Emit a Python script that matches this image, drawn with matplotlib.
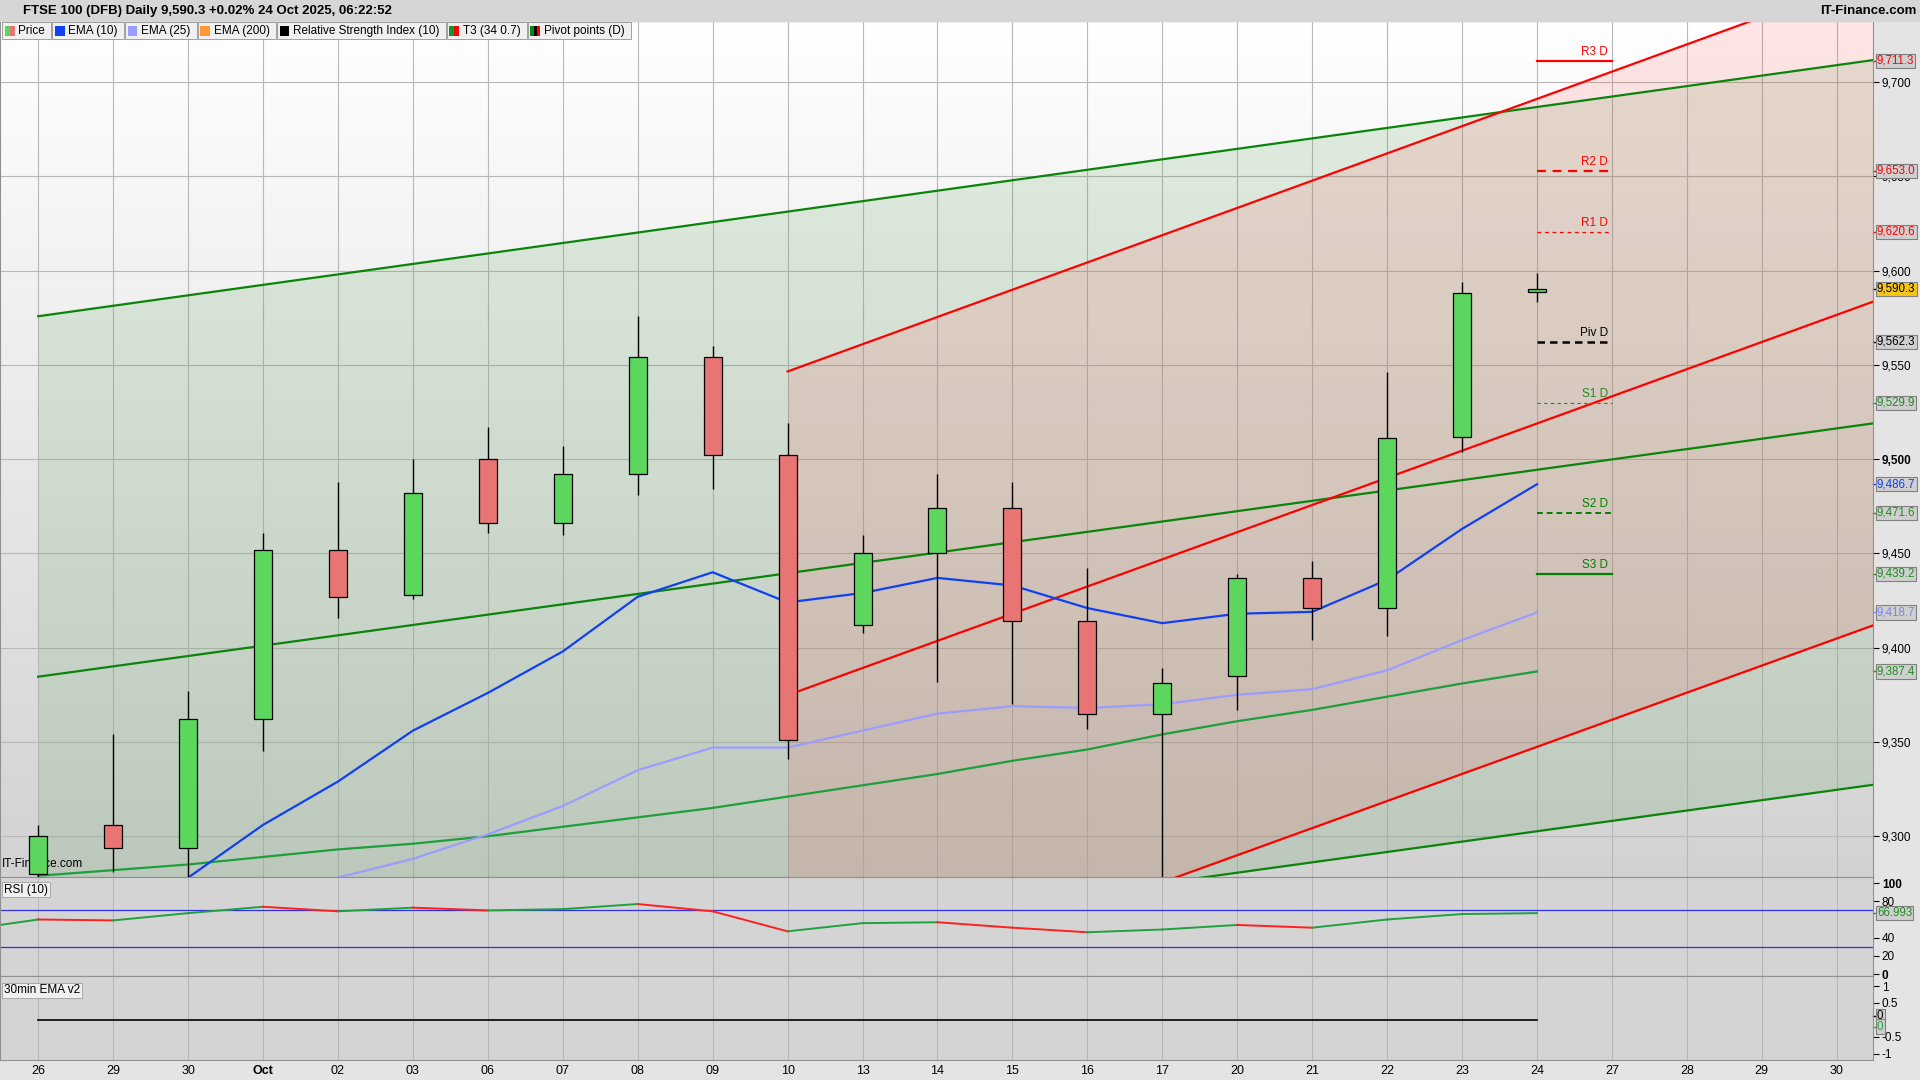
import numpy as np
import matplotlib
matplotlib.use("Agg")
import matplotlib.pyplot as plt
from matplotlib.patches import Rectangle

plt.rcParams['font.family'] = ['Liberation Sans', 'DejaVu Sans']

# ---------------- data ----------------
xlabels = ['26','29','30','Oct','02','03','06','07','08','09','10','13','14','15','16','17',
           '20','21','22','23','24','27','28','29','30']
opens  = [9280,9306,9294,9362,9452,9428,9500,9466,9492,9554,9502,9412,9450,9474,9414,9365,9385,9437,9421,9512,9588.5]
highs  = [9306,9354,9377,9461,9488,9500,9517,9507,9576,9560,9519,9460,9492,9488,9442,9389,9439,9446,9546,9594,9598.5]
lows   = [9270,9281,9275,9345,9416,9426,9461,9460,9481,9484,9341,9408,9382,9370,9357,9250,9367,9404,9406,9504,9583.6]
closes = [9300,9294,9362,9452,9427,9482,9466,9492,9554,9502,9351,9450,9474,9414,9365,9381,9437,9421,9511,9588,9590.3]
ema10  = [9250,9262,9278,9306,9329,9356,9376,9398,9427,9440,9424,9429,9437,9433,9421,9413,9418,9419,9436,9463,9486.7]
ema25  = [9255,9262,9268,9273,9278,9288,9301,9316,9335,9347,9347,9356,9365,9369,9368,9370,9375,9378,9388,9404,9418.7]
t3     = [9279,9282,9285,9289,9293,9296,9300,9305,9310,9315,9321,9327,9333,9340,9346,9354,9361,9367,9374,9381,9387.4]
rsi    = [60,59,67,74,69,73,70,71.4,77,69,47,56,57,51,46,49,54,51,60,66,66.993]
ema30m = [0]*21
# trend channels: (x0, y0, x1, y1)
green_top = (0, 9575.8, 24.49, 9711.7)
green_mid = (0, 9384.6, 24.49, 9519.0)
green_bot = (0, 9192.7, 24.49, 9327.3)
red_top   = (10, 9546.5, 24.49, 9756.0)
red_mid   = (10, 9374.8, 24.49, 9583.6)
red_bot   = (10, 9203.7, 24.49, 9411.9)
pivot_names  = ['R3 D','R2 D','R1 D','Piv D','S1 D','S2 D','S3 D']
pivot_values = [9711.3,9653.0,9620.6,9562.3,9529.9,9471.6,9439.2]
pivot_colors = ['#ff0000','#ff0000','#ff0000','#000000','#228b22','#008000','#008000']
pivot_styles = ['-',(0,(4,3)),(0,(3,3)),(0,(3,2)),(0,(3,3)),(0,(3,2)),'-']
pivot_widths = [1.6,1.6,0.9,1.8,0.8,1.4,1.6]

n = len(closes)
xi = np.arange(n)
X0, X1 = -0.51, 24.49

fig = plt.figure(figsize=(19.2,10.8), dpi=100)
fig.patch.set_facecolor('#e4e4e4')

def fy(y): return 1 - y/882
def fx(x): return x/1568
L, R = 0, fx(1530)
ax = fig.add_axes([L, fy(716), R-L, fy(17)-fy(716)])
ax2 = fig.add_axes([L, fy(797), R-L, fy(716)-fy(797)], sharex=ax)
ax3 = fig.add_axes([L, fy(866), R-L, fy(797)-fy(866)], sharex=ax)

fig.patches.append(Rectangle((0, fy(17)), 1, 1-fy(17), transform=fig.transFigure, color='#d6d6d6', zorder=0))
fig.text(0.012, fy(9), 'FTSE 100 (DFB) Daily 9,590.3 +0.02% 24 Oct 2025, 06:22:52', fontsize=9.5,
         fontweight='bold', va='center')
fig.text(0.998, fy(9), 'IT-Finance.com', fontsize=9.5, fontweight='bold', va='center', ha='right')

ymin, ymax = 9278.5, 9732.5
ax.set_xlim(X0, X1)
ax.set_ylim(ymin, ymax)
grad = np.linspace(1, 0, 256).reshape(-1, 1)
ax.imshow(grad, extent=[X0, X1, ymin, ymax], aspect='auto',
          cmap=matplotlib.colors.LinearSegmentedColormap.from_list('g', ['#d2d2d2', '#ffffff']),
          zorder=0, origin='upper')

for a in (ax, ax2, ax3):
    for i in range(25):
        a.axvline(i, color='#b8b8b8', lw=0.8, zorder=0.5)
yt = [9300,9350,9400,9450,9500,9550,9600,9650,9700]
for y in yt:
    ax.axhline(y, color='#b8b8b8', lw=0.8, zorder=0.5)

def line(p):
    return np.array([p[0], p[2]]), np.array([p[1], p[3]])
gx, gt = line(green_top); _, gb = line(green_bot)
ax.fill_between(gx, gt, gb, color='#2e8b2e', alpha=0.13, lw=0, zorder=1)
rx, rt = line(red_top); _, rb = line(red_bot)
ax.fill_between(rx, rt, rb, color='#ff4040', alpha=0.13, lw=0, zorder=1)
for p in (green_top, green_mid, green_bot):
    ax.plot(*line(p), color='#0a840a', lw=1.6, zorder=3)
for p in (red_top, red_mid, red_bot):
    ax.plot(*line(p), color='#ff0000', lw=1.6, zorder=3)

ax.plot(xi, t3, color='#1e9e3c', lw=1.6, zorder=3)
ax.plot(xi, ema25, color='#9c9cff', lw=1.6, zorder=3)
ax.plot(xi, ema10, color='#1040f0', lw=1.6, zorder=3)

w = 0.24
for i in range(n):
    o, h, l, c = opens[i], highs[i], lows[i], closes[i]
    col = '#5cd65c' if c >= o else '#e87474'
    ax.vlines(i, l, h, color='black', lw=1.0, zorder=4)
    ax.add_patch(Rectangle((i-w/2, min(o, c)), w, max(abs(c-o), 1.2), facecolor=col,
                           edgecolor='black', lw=0.9, zorder=5))

for nm, v, c, s, lw_ in zip(pivot_names, pivot_values, pivot_colors, pivot_styles, pivot_widths):
    ax.plot([20, 21], [v, v], color=c, ls=s, lw=lw_, zorder=4)
    ax.text(20.95, v+1.5, nm, color=c, fontsize=8.5, ha='right', va='bottom', zorder=6)

for a in (ax, ax2, ax3):
    a.yaxis.tick_right()
    a.tick_params(axis='y', labelsize=8.5, length=4, pad=2)
    a.tick_params(axis='x', length=0)
    for sp in a.spines.values():
        sp.set_color('#909090')
ax.set_yticks(yt)
ax.set_yticklabels([f'{v:,}' for v in yt])
for lab in ax.get_yticklabels():
    if lab.get_text() == '9,500':
        lab.set_fontweight('bold')

def tag(a, v, txt, fc, tc):
    a.annotate(txt, xy=(1.0, v), xycoords=('axes fraction', 'data'), xytext=(2.5, 0),
               textcoords='offset points', fontsize=8.3, color=tc, va='center', ha='left',
               bbox=dict(boxstyle='square,pad=0.1', fc=fc, ec='#808080', lw=0.8),
               annotation_clip=False, zorder=10)
    a.plot([1.0, 1.005], [v, v], transform=a.get_yaxis_transform(), color=tc, lw=1, clip_on=False)

tag(ax, 9711.3, '9,711.3', '#cfcfcf', '#ff0000')
tag(ax, 9653.0, '9,653.0', '#cfcfcf', '#ff0000')
tag(ax, 9620.6, '9,620.6', '#cfcfcf', '#ff0000')
tag(ax, closes[-1], '9,590.3', '#f5c518', '#000000')
tag(ax, 9562.3, '9,562.3', '#cfcfcf', '#000000')
tag(ax, 9529.9, '9,529.9', '#cfcfcf', '#228b22')
tag(ax, ema10[-1], '9,486.7', '#cfcfcf', '#1040f0')
tag(ax, 9471.6, '9,471.6', '#cfcfcf', '#228b22')
tag(ax, 9439.2, '9,439.2', '#cfcfcf', '#228b22')
tag(ax, ema25[-1], '9,418.7', '#cfcfcf', '#8080ff')
tag(ax, t3[-1], '9,387.4', '#cfcfcf', '#228b22')

items = [('Price', ['#5cd65c', '#e87474']), ('EMA (10)', ['#1040f0']), ('EMA (25)', ['#9c9cff']),
         ('EMA (200)', ['#ff9933']), ('Relative Strength Index (10)', ['#000000']),
         ('T3 (34 0.7)', ['#0a9a2a', '#ff0000']), ('Pivot points (D)', ['#0a840a', '#000000', '#ff0000'])]
fig.canvas.draw()
rend = fig.canvas.get_renderer()
xpos = 2
for txt, cols in items:
    t = fig.text(fx(xpos+13), fy(25), txt, fontsize=8.5, va='center')
    bb = t.get_window_extent(renderer=rend)
    wpx = bb.width / (1920/1568)
    fig.patches.append(Rectangle((fx(xpos), fy(32)), fx(wpx+18), fy(18)-fy(32), transform=fig.transFigure,
                                 fc='#f0f0f0', ec='#a0a0a0', lw=0.7, zorder=1))
    cw = 8/len(cols)
    for k, c in enumerate(cols):
        fig.patches.append(Rectangle((fx(xpos+2+k*cw), fy(29)), fx(cw), fy(21)-fy(29),
                                     transform=fig.transFigure, fc=c, ec='none', zorder=2))
    xpos += wpx + 19
ax.text(0.001, 0.008, 'IT-Finance.com', transform=ax.transAxes, fontsize=8.5, va='bottom')

ax2.set_facecolor('#d4d4d4')
ax2.set_ylim(-2, 107)
ax2.axhline(70, color='#3030e0', lw=0.9)
ax2.axhline(30, color='#3030e0', lw=0.9)
rx_ = np.concatenate([[X0], xi])
rv_ = np.concatenate([[54], rsi])
for i in range(len(rx_)-1):
    c = '#ff2020' if rv_[i+1] < rv_[i] else '#20a040'
    ax2.plot(rx_[i:i+2], rv_[i:i+2], color=c, lw=1.4)
ax2.set_yticks([0,20,40,80,100])
ax2.set_yticklabels(['0','20','40','80','100'])
for lab in ax2.get_yticklabels():
    if lab.get_text() in ('0','100'):
        lab.set_fontweight('bold')
tag(ax2, rsi[-1], '66.993', '#cfcfcf', '#228b22')
ax2.text(0.002, 0.93, 'RSI (10)', transform=ax2.transAxes, fontsize=8.5, va='top',
         bbox=dict(boxstyle='square,pad=0.15', fc='#f0f0f0', ec='#a0a0a0', lw=0.6))

ax3.set_facecolor('#d4d4d4')
ax3.set_ylim(-1.2, 1.3)
ax3.plot(xi, ema30m, color='black', lw=1.2)
ax3.set_yticks([-1,-0.5,0.5,1])
ax3.set_yticklabels(['-1','-0.5','0.5','1'])
tag(ax3, 0.12, '0', '#cfcfcf', '#000000')
tag(ax3, -0.2, '0', '#cfcfcf', '#20a040')
ax3.text(0.002, 0.9, '30min EMA v2', transform=ax3.transAxes, fontsize=8.5, va='top',
         bbox=dict(boxstyle='square,pad=0.15', fc='#f0f0f0', ec='#a0a0a0', lw=0.6))

plt.setp(ax.get_xticklabels(), visible=False)
plt.setp(ax2.get_xticklabels(), visible=False)
ax3.set_xticks(range(25))
ax3.set_xticklabels(xlabels, fontsize=9)
for lab in ax3.get_xticklabels():
    if lab.get_text() == 'Oct':
        lab.set_fontweight('bold')
ax3.set_xlim(X0, X1)

fig.savefig('out.png', dpi=100, facecolor=fig.get_facecolor())
